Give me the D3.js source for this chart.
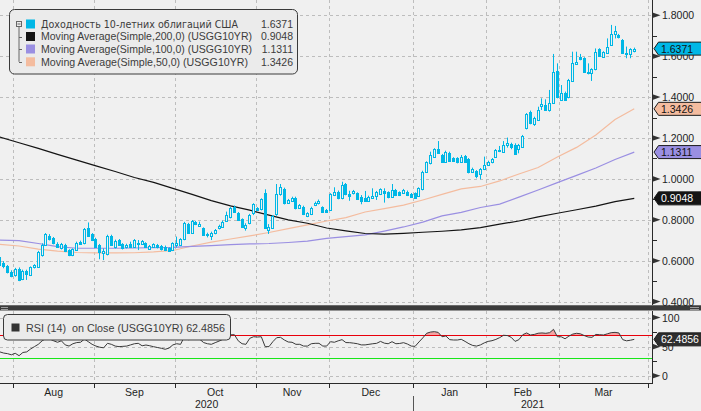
<!DOCTYPE html>
<html><head><meta charset="utf-8">
<script src="https://cdn.jsdelivr.net/npm/d3@7/dist/d3.min.js"></script>
<style>
html,body{margin:0;padding:0;background:#f0f0f0;}
svg{display:block;font-family:"Liberation Sans",Arial,sans-serif;}
</style>
</head><body>
<svg id="chart" width="701" height="411"></svg>
<script>
// ---------- DATA ----------
const months = ["Aug","Sep","Oct","Nov","Dec","Jan","Feb","Mar"];
const monthStart = [4,25,46,67,86,108,127,146];
const monthEnd   = [25,46,67,86,108,127,146,169];
const years = ["2020","2021"];
const yearStart = [-4,108];
const yearEnd = [108,172];

const open = [
.620,.590,.574,.546,.528,.559,.510,.551,.530,.567,
.571,.628,.677,.721,.712,.682,.660,.677,.652,.628,
.652,.693,.685,.761,.729,.706,.677,.636,.631,.721,
.665,.701,.682,.665,.682,.669,.685,.682,.685,.659,
.669,.677,.672,.669,.660,.652,.677,.677,.706,.779,
.737,.789,.771,.758,.724,.721,.734,.758,.766,.796,
.812,.864,.832,.802,.762,.783,.832,.856,.851,.933,
.750,.761,.827,.924,.951,.884,.894,.908,.859,.864,
.818,.828,.872,.880,.861,.848,.848,.921,.938,.905,
.975,.926,.929,.929,.910,.908,.894,.908,.918,.926,
.941,.934,.913,.946,.934,.933,.938,.926,.929,.918,
.949,1.035,1.076,1.109,1.146,1.117,1.084,1.128,1.101,1.101,
1.084,1.112,1.097,1.035,1.038,1.024,1.048,1.068,1.081,1.109,
1.141,1.133,1.166,1.169,1.166,1.145,1.158,1.247,1.329,1.268,
1.288,1.357,1.361,1.337,1.373,1.528,1.386,1.422,1.399,1.480,
1.562,1.598,1.590,1.524,1.520,1.536,1.634,1.598,1.617,1.655,
1.707,1.704,1.679,1.614,1.609,1.624];
const high = [
.640,.598,.579,.553,.565,.567,.556,.556,.572,.583,
.648,.685,.735,.730,.716,.690,.687,.683,.656,.660,
.693,.698,.760,.787,.735,.712,.682,.660,.727,.727,
.703,.706,.686,.683,.693,.706,.701,.701,.690,.677,
.685,.682,.677,.674,.665,.690,.718,.710,.790,.785,
.799,.795,.791,.763,.737,.742,.755,.776,.796,.840,
.862,.870,.838,.807,.783,.829,.881,.862,.905,.949,
.779,.823,.975,.975,.957,.902,.913,.913,.877,.869,
.837,.864,.889,.899,.866,.853,.930,.959,.943,.986,
.980,.942,.946,.934,.921,.941,.918,.954,.941,.954,
.954,.939,.975,.951,.939,.951,.943,.931,.934,.959,
1.040,1.086,1.133,1.150,1.185,1.122,1.138,1.133,1.106,1.106,
1.117,1.117,1.102,1.055,1.043,1.053,1.109,1.089,1.102,1.146,
1.161,1.185,1.202,1.177,1.174,1.171,1.215,1.322,1.334,1.304,
1.353,1.394,1.389,1.435,1.611,1.565,1.459,1.427,1.489,1.622,
1.622,1.611,1.595,1.565,1.541,1.638,1.639,1.624,1.687,1.753,
1.748,1.709,1.684,1.647,1.639,1.642];
const low = [
.574,.563,.538,.519,.522,.500,.505,.506,.525,.562,
.566,.620,.672,.699,.680,.662,.655,.642,.622,.622,
.648,.678,.680,.716,.696,.664,.607,.603,.626,.672,
.660,.672,.655,.660,.664,.664,.652,.677,.664,.654,
.664,.660,.650,.647,.644,.647,.665,.672,.700,.732,
.732,.774,.766,.721,.714,.701,.729,.753,.761,.791,
.807,.835,.794,.761,.747,.778,.823,.843,.846,.755,
.731,.755,.820,.918,.875,.879,.889,.851,.854,.823,
.813,.823,.867,.875,.835,.835,.843,.916,.900,.900,
.920,.893,.924,.897,.876,.889,.889,.905,.897,.921,
.884,.905,.908,.916,.916,.928,.916,.908,.903,.913,
.944,1.030,1.071,1.104,1.123,1.079,1.079,1.084,1.084,1.076,
1.079,1.079,1.027,1.030,1.003,.998,1.043,1.063,1.076,1.104,
1.131,1.128,1.153,1.145,1.117,1.125,1.153,1.242,1.267,1.259,
1.283,1.337,1.332,1.329,1.368,1.394,1.381,1.381,1.394,1.475,
1.557,1.580,1.519,1.511,1.479,1.531,1.596,1.593,1.612,1.650,
1.687,1.687,1.612,1.590,1.590,1.619];
const close = [
.579,.574,.546,.525,.559,.506,.551,.535,.567,.577,
.642,.677,.729,.706,.688,.669,.680,.647,.628,.655,
.688,.683,.755,.721,.701,.669,.644,.647,.721,.677,
.698,.677,.660,.677,.669,.701,.680,.696,.669,.672,
.680,.665,.655,.652,.649,.685,.688,.704,.783,.737,
.794,.779,.778,.726,.730,.737,.750,.771,.791,.823,
.856,.840,.799,.766,.775,.823,.876,.848,.900,.761,
.766,.818,.924,.959,.880,.897,.908,.856,.872,.828,
.832,.859,.884,.894,.840,.840,.925,.934,.905,.970,
.925,.918,.941,.902,.894,.894,.913,.916,.934,.949,
.929,.910,.946,.921,.921,.946,.921,.913,.908,.954,
1.035,1.081,1.117,1.145,1.128,1.084,1.130,1.089,1.089,1.081,
1.105,1.084,1.032,1.047,1.014,1.048,1.068,1.084,1.097,1.141,
1.136,1.166,1.177,1.158,1.122,1.166,1.210,1.317,1.272,1.296,
1.337,1.366,1.337,1.373,1.524,1.399,1.422,1.386,1.484,1.565,
1.573,1.585,1.524,1.516,1.536,1.622,1.601,1.619,1.643,1.707,
1.723,1.692,1.617,1.609,1.634,1.6371];

const maIndex = [0,5,10,15,20,25,30,35,40,45,50,55,60,65,70,75,80,85,90,95,100,105,110,115,120,125,130,135,140,145,150,155,160,165];
const ma50  = [0.680,0.672,0.657,0.647,0.640,0.638,0.638,0.639,0.643,0.650,0.672,0.691,0.706,0.721,0.738,0.757,0.775,0.794,0.811,0.838,0.855,0.872,0.897,0.924,0.951,0.963,0.990,1.024,1.056,1.107,1.154,1.215,1.290,1.3426];
const ma100 = [0.701,0.698,0.684,0.669,0.661,0.661,0.661,0.662,0.664,0.665,0.670,0.674,0.679,0.682,0.684,0.689,0.696,0.709,0.718,0.726,0.745,0.765,0.789,0.819,0.836,0.860,0.877,0.911,0.946,0.982,1.017,1.053,1.095,1.1311];
const ma200 = [1.205,1.177,1.149,1.120,1.092,1.064,1.036,1.007,0.983,0.954,0.924,0.894,0.868,0.847,0.823,0.800,0.783,0.760,0.746,0.733,0.730,0.734,0.739,0.744,0.751,0.762,0.779,0.794,0.814,0.832,0.849,0.867,0.889,0.9048];

const rsi = [
41,39,38,36,38.6,34.5,40,41,46,50,
54,60,64,63,60,57.5,60,53,51,55,
57,57.5,63,58.5,54,51,49,48,55.7,54,
51,50,50.5,51,53,55,55.7,51.5,52.8,51.5,
49.9,48.5,47.2,45.5,47.5,53,55,54,67,62,
62.5,63,62.6,57,55,54,56.8,59.5,62.5,66.5,
70.3,70.5,60,55,54,64.3,67,66.5,67,50,
50,58.5,65.4,66,61.4,58,57.5,54,54,51,
51,55,55.7,55.7,51,51,58.5,57.5,60,62,
57,56.8,56,55,53,53,54,55,55.7,59,
56,55,58.5,55,55.5,56.8,54.5,51,50.5,58,
65,72.9,75,75.7,74.5,67,68.3,62,61.4,61.4,
62.6,59,55,52,51,53,56.5,59,60.2,62.4,
65.5,69.5,69,66,59,62,70.5,73.5,70,71,
73,73.5,72.9,74,79.7,67,67,63.5,68,71.5,
72.9,72,69,66.5,66,71,70.5,70,72,74,
74.5,73.5,62,60,61,62.4856];

const priceMajor = [0.4,0.6,0.8,1.0,1.2,1.4,1.6,1.8];
const priceMinor = [0.5,0.7,0.9,1.1,1.3,1.5,1.7];
const rsiMajor = [0,50,100];
const rsiMinor = [25,75];

const legendNames = ["Доходность 10-летних облигаций США","Moving Average(Simple,200,0) (USGG10YR)","Moving Average(Simple,100,0) (USGG10YR)","Moving Average(Simple,50,0) (USGG10YR)"];
const legendValues = ["1.6371","0.9048","1.1311","1.3426"];
const rsiLegend = "RSI (14)  on Close (USGG10YR) 62.4856";
const rsiLast = "62.4856";

// ---------- STYLE ----------
const C_CANDLE = "#00b7e6", C_MA200 = "#141414", C_MA100 = "#9a8fe2", C_MA50 = "#f4bc9f";
const BG = "#f0f0f0", GRID = "#bdbdbd", AXIS = "#2a2a2a";
const FS = "10.5px";

const svg = d3.select("#chart");
const W = 701, H = 411, PR = 652;

const x = d3.scaleLinear().domain([0,168]).range([-0.16, -0.16 + 168*3.845]);
const y = d3.scaleLinear().domain([0.4,1.8]).range([301.6,15.3]);
const yr = d3.scaleLinear().domain([0,100]).range([375.8,317.5]);

svg.append("rect").attr("width",W).attr("height",H).attr("fill",BG);

const defs = svg.append("defs");
defs.append("clipPath").attr("id","clipMain").append("rect").attr("x",0).attr("y",0).attr("width",PR).attr("height",304);
defs.append("clipPath").attr("id","clipRsi").append("rect").attr("x",0).attr("y",311).attr("width",PR).attr("height",72);
defs.append("clipPath").attr("id","clipAbove70").append("rect").attr("x",0).attr("y",311).attr("width",PR).attr("height",yr(70)-311);
defs.append("clipPath").attr("id","clipBelow30").append("rect").attr("x",0).attr("y",yr(30)).attr("width",PR).attr("height",383-yr(30));

const crisp = v => Math.round(v) + 0.5;
const boundaries = monthStart.concat([monthEnd[monthEnd.length-1]]).map(s => crisp(x(s-0.5)));

// ---------- MAIN PANEL ----------
const gMain = svg.append("g").attr("clip-path","url(#clipMain)");
gMain.selectAll(".hg").data(priceMajor).enter().append("line")
  .attr("x1",0).attr("x2",PR).attr("y1",d=>crisp(y(d))).attr("y2",d=>crisp(y(d)))
  .attr("stroke",GRID).attr("stroke-dasharray","3,3");
gMain.selectAll(".vg").data(boundaries).enter().append("line")
  .attr("x1",d=>d).attr("x2",d=>d).attr("y1",0).attr("y2",304)
  .attr("stroke",GRID).attr("stroke-dasharray","3,3");

const maLine = arr => d3.line().x((d,i)=>x(maIndex[i])).y(d=>y(d))(arr);
gMain.append("path").attr("d",maLine(ma50)).attr("fill","none").attr("stroke",C_MA50).attr("stroke-width",1.2);
gMain.append("path").attr("d",maLine(ma100)).attr("fill","none").attr("stroke",C_MA100).attr("stroke-width",1.2);
gMain.append("path").attr("d",maLine(ma200)).attr("fill","none").attr("stroke",C_MA200).attr("stroke-width",1.2);

const candles = close.map((c,i)=>({i,o:open[i],h:high[i],l:low[i],c}));
const gC = gMain.append("g");
candles.forEach(d=>{
  const cx = Math.floor(x(d.i)) + 0.5;
  const top = y(Math.max(d.o,d.c)), bot = y(Math.min(d.o,d.c));
  gC.append("line").attr("x1",cx).attr("x2",cx).attr("y1",y(d.h)).attr("y2",y(d.l))
    .attr("stroke",C_CANDLE).attr("stroke-width",1);
  const up = d.c >= d.o;
  if (up) {
    gC.append("rect").attr("x",cx-1).attr("y",Math.round(top)+0.5).attr("width",2)
      .attr("height",Math.max(1,Math.round(bot)-Math.round(top)))
      .attr("fill",BG).attr("stroke",C_CANDLE).attr("stroke-width",1);
  } else {
    gC.append("rect").attr("x",cx-1.5).attr("y",Math.round(top)).attr("width",3)
      .attr("height",Math.max(1,Math.round(bot)-Math.round(top)+1))
      .attr("fill",C_CANDLE);
  }
});

// ---------- RSI PANEL ----------
const gR = svg.append("g").attr("clip-path","url(#clipRsi)");
gR.selectAll(".rh").data(rsiMajor).enter().append("line")
  .attr("x1",0).attr("x2",PR).attr("y1",d=>crisp(yr(d))).attr("y2",d=>crisp(yr(d)))
  .attr("stroke",GRID).attr("stroke-dasharray","3,3");
gR.selectAll(".rv").data(boundaries).enter().append("line")
  .attr("x1",d=>d).attr("x2",d=>d).attr("y1",311).attr("y2",383)
  .attr("stroke",GRID).attr("stroke-dasharray","3,3");

const rsiArea70 = d3.area().x((d,i)=>x(i)).y0(yr(70)).y1(d=>yr(d));
gR.append("path").attr("d",rsiArea70(rsi)).attr("fill","#f3a3a3").attr("clip-path","url(#clipAbove70)");
const rsiArea30 = d3.area().x((d,i)=>x(i)).y0(yr(30)).y1(d=>yr(d));
gR.append("path").attr("d",rsiArea30(rsi)).attr("fill","#a3f3a3").attr("clip-path","url(#clipBelow30)");
gR.append("line").attr("x1",0).attr("x2",PR).attr("y1",crisp(yr(70))).attr("y2",crisp(yr(70))).attr("stroke","#e8000b").attr("stroke-width",1);
gR.append("line").attr("x1",0).attr("x2",PR).attr("y1",crisp(yr(30))).attr("y2",crisp(yr(30))).attr("stroke","#19e619").attr("stroke-width",1);
gR.append("path").attr("d",d3.line().x((d,i)=>x(i)).y(d=>yr(d))(rsi))
  .attr("fill","none").attr("stroke","#3a3a3a").attr("stroke-width",1);

// ---------- SEPARATOR ----------
svg.append("rect").attr("x",0).attr("y",305.5).attr("width",W).attr("height",5).attr("fill","#3b3b3b");
svg.append("line").attr("x1",0).attr("x2",W).attr("y1",305.5).attr("y2",305.5).attr("stroke","#6a6a6a");
[[1,8],[690,699]].forEach(([a,b])=>{
  [307,309].forEach(yy=>svg.append("line").attr("x1",a).attr("x2",b).attr("y1",yy+0.5).attr("y2",yy+0.5).attr("stroke","#9a9a9a"));
});

// ---------- AXES ----------
svg.append("line").attr("x1",PR+0.5).attr("x2",PR+0.5).attr("y1",0).attr("y2",305).attr("stroke",AXIS);
svg.append("line").attr("x1",PR+0.5).attr("x2",PR+0.5).attr("y1",311).attr("y2",384).attr("stroke",AXIS);

const arrow = (g,yy)=> g.append("path").attr("d",`M${PR+0.5},${yy-2.8}L${PR+8.5},${yy}L${PR+0.5},${yy+2.8}Z`).attr("fill","#333");

const gAx = svg.append("g");
priceMinor.forEach(v=>gAx.append("line").attr("x1",PR).attr("x2",PR+5).attr("y1",crisp(y(v))).attr("y2",crisp(y(v))).attr("stroke",AXIS));
priceMajor.forEach(v=>{
  arrow(gAx,y(v));
  gAx.append("text").attr("x",662).attr("y",y(v)+4).attr("font-size",FS).attr("fill","#1e1e1e").text(v.toFixed(4));
});
rsiMinor.forEach(v=>gAx.append("line").attr("x1",PR).attr("x2",PR+5).attr("y1",crisp(yr(v))).attr("y2",crisp(yr(v))).attr("stroke",AXIS));
rsiMajor.forEach(v=>{
  arrow(gAx,yr(v));
  gAx.append("text").attr("x",662).attr("y",yr(v)+4).attr("font-size",FS).attr("fill","#1e1e1e").text(v);
});

// bottom axis
svg.append("line").attr("x1",0).attr("x2",PR+1).attr("y1",383.5).attr("y2",383.5).attr("stroke",AXIS);
boundaries.forEach(b=>svg.append("line").attr("x1",b).attr("x2",b).attr("y1",383.5).attr("y2",388).attr("stroke",AXIS));
months.forEach((m,k)=>{
  svg.append("text").attr("x",x((monthStart[k]+monthEnd[k]-1)/2)).attr("y",396)
    .attr("text-anchor","middle").attr("font-size",FS).attr("fill","#1e1e1e").text(m);
});
years.forEach((yy,k)=>{
  const a = Math.max(0,x(yearStart[k]-0.5)), b = Math.min(PR,x(yearEnd[k]-0.5));
  svg.append("text").attr("x",(a+b)/2).attr("y",408).attr("text-anchor","middle").attr("font-size",FS).attr("fill","#1e1e1e").text(yy);
});
svg.append("line").attr("x1",crisp(x(107.5))).attr("x2",crisp(x(107.5))).attr("y1",396).attr("y2",411).attr("stroke","#555");

// ---------- VALUE TAGS ----------
function tag(yc, txt, fill, tcol){
  const g = svg.append("g");
  g.append("path").attr("d",`M${PR+2},${yc}L${PR+6.5},${yc-6.5}L${W+2},${yc-6.5}L${W+2},${yc+6.5}L${PR+6.5},${yc+6.5}Z`)
    .attr("fill",fill).attr("stroke","#1a1a1a").attr("stroke-width",1);
  g.append("text").attr("x",661).attr("y",yc+4).attr("font-size",FS).attr("fill",tcol).text(txt);
}
tag(y(close[close.length-1]), legendValues[0], C_CANDLE, "#111");
tag(y(ma50[ma50.length-1]), legendValues[3], C_MA50, "#111");
tag(y(ma100[ma100.length-1]), legendValues[2], C_MA100, "#111");
tag(y(ma200[ma200.length-1]), legendValues[1], C_MA200, "#fff");
tag(yr(rsi[rsi.length-1]), rsiLast, "#2e2e2e", "#fff");

// ---------- LEGENDS ----------
const gL = svg.append("g");
gL.append("rect").attr("x",9.5).attr("y",9.5).attr("width",288).attr("height",64.5).attr("rx",5)
  .attr("fill","#ebebeb").attr("stroke","#3a3a3a");
const rows = [24,36.5,49,61.8];
const cols = [C_CANDLE,C_MA200,C_MA100,C_MA50];
const nameWidths = [197,211,211,207];
const nameFonts = ['"DejaVu Sans"','"Liberation Sans"','"Liberation Sans"','"Liberation Sans"'];
const nameSizes = ["10px",FS,FS,FS];
gL.append("rect").attr("x",16.5).attr("y",21.5).attr("width",5).attr("height",5).attr("fill","none").attr("stroke","#666");
gL.append("line").attr("x1",17.5).attr("x2",20.5).attr("y1",24).attr("y2",24).attr("stroke","#666");
gL.append("line").attr("x1",19).attr("x2",19).attr("y1",27).attr("y2",rows[3]).attr("stroke","#666");
rows.slice(1).forEach(r=>gL.append("line").attr("x1",19).attr("x2",22).attr("y1",Math.round(r)+0.5).attr("y2",Math.round(r)+0.5).attr("stroke","#666"));
rows.forEach((r,k)=>{
  gL.append("rect").attr("x",26).attr("y",r-4.5).attr("width",9).attr("height",9).attr("fill",cols[k]);
  gL.append("text").attr("x",41).attr("y",r+3.8).attr("font-family",nameFonts[k]).attr("font-size",nameSizes[k]).attr("fill","#3c3c3c")
    .attr("textLength",nameWidths[k]).attr("lengthAdjust","spacingAndGlyphs").text(legendNames[k]);
  gL.append("text").attr("x",293).attr("y",r+3.8).attr("text-anchor","end").attr("font-size",FS).attr("fill","#3c3c3c").text(legendValues[k]);
});

const gRL = svg.append("g");
gRL.append("rect").attr("x",3.5).attr("y",314.5).attr("width",227).attr("height",25.5).attr("rx",4)
  .attr("fill","#ebebeb").attr("stroke","#3a3a3a");
gRL.append("rect").attr("x",11.5).attr("y",323.5).attr("width",8).attr("height",8).attr("fill","#333");
gRL.append("text").attr("x",26).attr("y",331.5).attr("font-size",FS).attr("fill","#3c3c3c")
  .attr("xml:space","preserve").attr("textLength",199).attr("lengthAdjust","spacingAndGlyphs").text(rsiLegend);
</script>
</body></html>
